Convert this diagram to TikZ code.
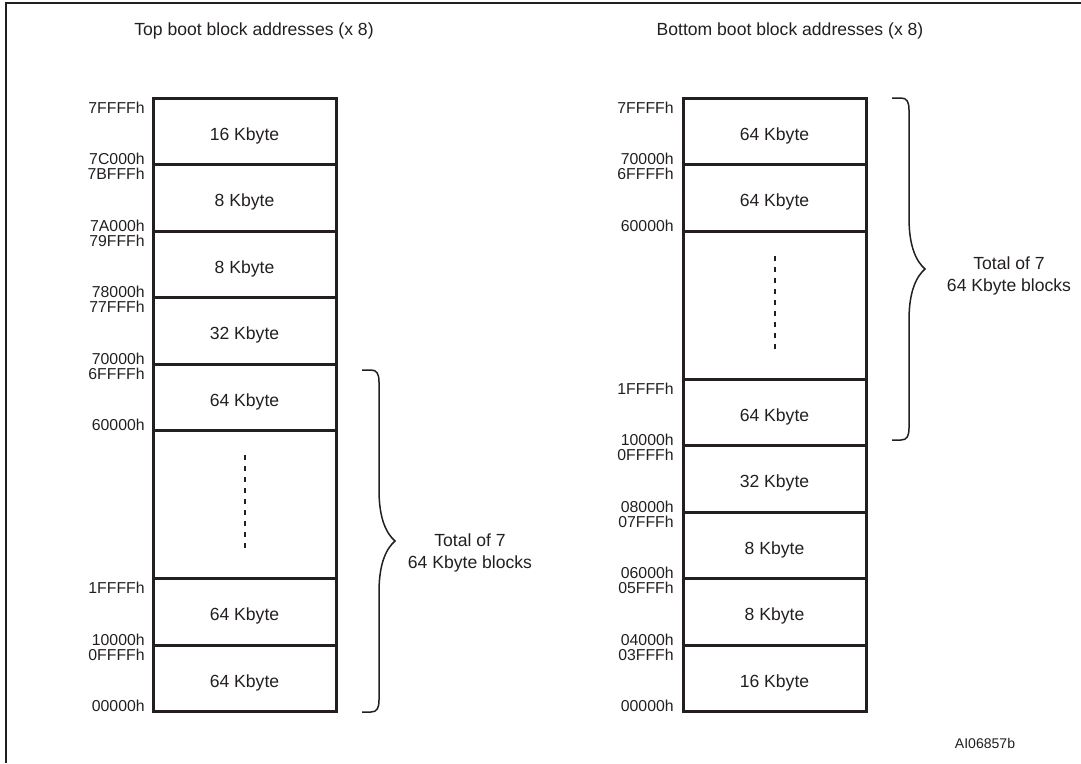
\documentclass[tikz,border=0pt]{standalone}
\usepackage{fontspec}
\setmainfont{Liberation Sans}
\usepackage{tikz}

\definecolor{inkgray}{RGB}{35,31,32}

\tikzset{
  blk/.style={draw=inkgray, line width=0.6mm},
  lbl/.style={inner sep=0pt, text=inkgray, font=\fontsize{10}{12.5}\selectfont},
  blktxt/.style={lbl, anchor=base, yshift=-1.8mm},
  addrup/.style={anchor=base east, inner sep=0pt, text=inkgray, font=\fontsize{9}{10}\selectfont},
  addrdn/.style={anchor=north east, inner sep=0pt, text=inkgray, font=\fontsize{9}{10}\selectfont},
  kbrace/.pic={
    \draw[inkgray, line width=0.3mm] (0,0) -- (9,0) .. controls (15,0) and (17,4) .. (17,12)
      -- (17,120) .. controls (17,150) and (25,164) .. (33,171)
      .. controls (25,178) and (17,192) .. (17,222)
      -- (17,330) .. controls (17,338) and (15,342) .. (9,342) -- (0,342);
  }
}

\begin{document}
\begin{tikzpicture}[x=0.2mm, y=-0.2mm]
    \useasboundingbox (0,0) rectangle (1081,763);
    % Frame
    \draw[line width=0.5mm, inkgray] (6,763) -- (6,3) -- (1081,3);

    % Titles
    \node[lbl, anchor=base] (ttop) at (254,36) {Top boot block addresses (x 8)};
    \node[lbl, anchor=base] (tbot) at (790,36) {Bottom boot block addresses (x 8)};

    % Top boot blocks (left)
    \draw[blk] (153,98) rectangle (336,711);
    \foreach \y in {164,231,297,364,430,578,645}
        \draw[blk] (153,\y) -- (336,\y);
    \foreach \m/\sz [count=\i] in {131/16, 197.5/8, 264/8, 330.5/32, 397/64, 611.5/64, 678/64}
        \node[blktxt] (lb\i) at (244.5,\m) {\sz\ Kbyte};
    \draw[inkgray, line width=0.4mm, dash pattern=on 1mm off 1.2mm] (245,455) -- (245,554);

    % Left addresses
    \foreach \y/\up/\dn in {164/7C000h/7BFFFh, 231/7A000h/79FFFh, 297/78000h/77FFFh,
                            364/70000h/6FFFFh, 645/10000h/0FFFFh} {
        \node[addrup] (lu\y) at (145,\y) {\up};
        \node[addrdn] (ld\y) at (145,\y+4) {\dn};
    }
    \node[addrdn] (ltop) at (145,102) {7FFFFh};
    \node[addrup] (l430) at (145,430) {60000h};
    \node[addrdn] (l578) at (145,582) {1FFFFh};
    \node[addrup] (lbot) at (145,711) {00000h};

    % Bottom boot blocks (right)
    \draw[blk] (683,98) rectangle (866,711);
    \foreach \y in {164,231,379,445,512,578,645}
        \draw[blk] (683,\y) -- (866,\y);
    \foreach \m/\sz [count=\i] in {131/64, 197.5/64, 412/64, 478.5/32, 545/8, 611.5/8, 678/16}
        \node[blktxt] (rb\i) at (774.5,\m) {\sz\ Kbyte};
    \draw[inkgray, line width=0.4mm, dash pattern=on 1mm off 1.2mm] (775,256) -- (775,355);

    % Right addresses
    \foreach \y/\up/\dn in {164/70000h/6FFFFh, 445/10000h/0FFFFh, 512/08000h/07FFFh,
                            578/06000h/05FFFh, 645/04000h/03FFFh} {
        \node[addrup] (ru\y) at (674,\y) {\up};
        \node[addrdn] (rd\y) at (674,\y+4) {\dn};
    }
    \node[addrdn] (rtop) at (674,102) {7FFFFh};
    \node[addrup] (r231) at (674,231) {60000h};
    \node[addrdn] (r379) at (674,383) {1FFFFh};
    \node[addrup] (rbot) at (674,711) {00000h};

    % Braces and notes
    \pic at (362,370) {kbrace};
    \pic at (892,98) {kbrace};
    \node[lbl, align=center] (totl) at (470,553) {Total of 7\\64 Kbyte blocks};
    \node[lbl, align=center] (totr) at (1009,276) {Total of 7\\64 Kbyte blocks};

    \node[anchor=base, inner sep=0pt, text=inkgray, font=\fontsize{8}{10}\selectfont] (ref) at (985,748) {AI06857b};
\end{tikzpicture}
\end{document}
